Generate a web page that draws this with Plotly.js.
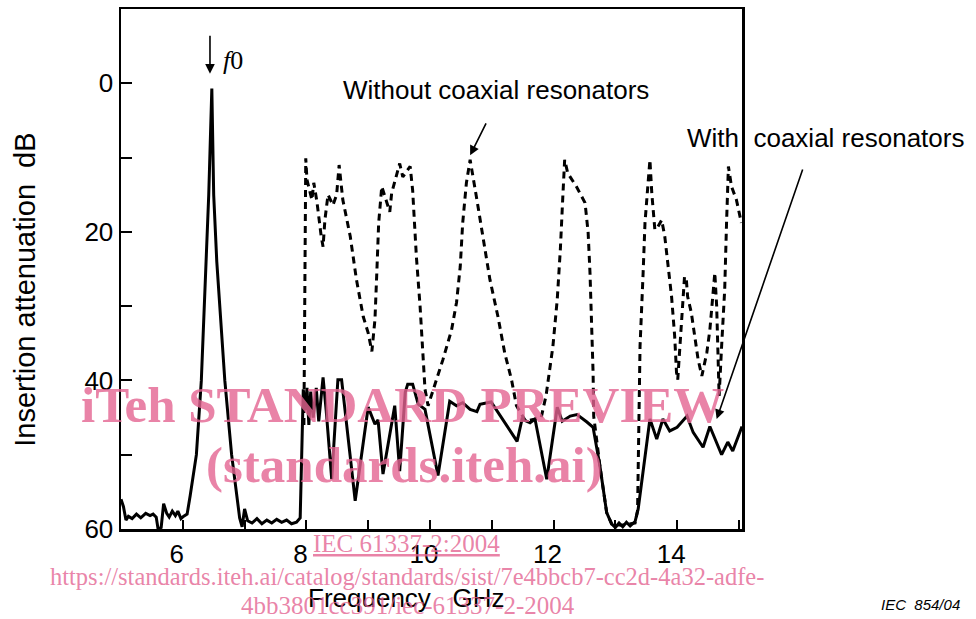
<!DOCTYPE html>
<html>
<head>
<meta charset="utf-8">
<script src="https://cdn.plot.ly/plotly-3.0.1.min.js"></script>
<style>html,body{margin:0;padding:0;background:#fff;}#chart{width:976px;height:619px;}</style>
</head>
<body>
<div id="chart"></div>
<script>
// Frequency (GHz) and insertion attenuation (dB) — with coaxial resonators (solid)
const withFreq = [5.00,5.04,5.08,5.12,5.18,5.25,5.32,5.40,5.47,5.52,5.57,5.60,5.65,5.69,5.74,5.78,5.83,5.88,5.92,5.97,6.01,6.07,6.12,6.22,6.30,6.38,6.42,6.47,6.50,6.55,6.68,6.79,6.92,6.96,7.00,7.05,7.12,7.20,7.28,7.36,7.44,7.52,7.60,7.68,7.76,7.84,7.90,7.95,7.98,8.01,8.04,8.07,8.11,8.16,8.20,8.27,8.32,8.41,8.51,8.57,8.79,9.00,9.11,9.16,9.24,9.43,9.51,9.60,9.64,9.72,9.81,9.92,10.13,10.32,10.43,10.53,10.65,10.76,10.81,10.99,11.25,11.41,11.49,11.62,11.70,11.89,12.06,12.14,12.27,12.38,12.54,12.64,12.75,12.86,12.94,13.00,13.06,13.12,13.18,13.24,13.32,13.37,13.56,13.67,13.77,13.88,14.00,14.16,14.26,14.42,14.53,14.72,14.82,14.90,15.05];
const withAtt = [56.0,57.0,58.8,58.3,58.6,58.0,58.5,57.9,58.2,58.0,58.4,60.0,59.8,56.6,57.9,58.4,57.6,58.2,57.6,58.6,58.3,58.0,55.5,50,40,24,15,0.7,15,24,40,50,58.5,59.7,57.3,58.9,59.2,58.6,59.3,58.8,59.2,58.7,59.1,58.8,59.3,59.1,58.5,41.2,44,41,46,41.5,45,41,45.5,39.6,44,53.3,39.9,39.9,56.2,43.6,45.9,45.3,52.6,43.4,52.2,41.6,40.5,40.5,43.2,43.9,52.8,42.8,43.4,43.0,43.9,44.2,43.2,42.9,46.2,48.2,45.2,45.7,45.2,53.3,43.6,45.5,44.8,44.6,45.6,46.3,51.5,57.8,59.3,59.8,59.2,59.7,59.1,59.6,59.0,57.3,45.2,47.9,45.2,46.8,46.3,44.8,47.0,49.0,46.2,50.0,48.3,49.5,46.2];

// Without coaxial resonators (dashed)
const withoutFreq = [7.96,7.97,7.99,8.01,8.09,8.12,8.17,8.24,8.27,8.30,8.35,8.43,8.49,8.53,8.59,8.71,8.81,8.92,9.00,9.06,9.11,9.14,9.17,9.22,9.30,9.35,9.38,9.46,9.51,9.56,9.68,9.72,9.78,9.84,9.89,9.92,9.97,10.11,10.21,10.35,10.43,10.49,10.53,10.59,10.65,10.76,10.86,10.97,11.10,11.21,11.32,11.40,11.55,11.80,11.88,11.99,12.06,12.11,12.15,12.18,12.23,12.37,12.51,12.56,12.59,12.62,12.64,12.65,12.75,12.86,12.94,13.10,13.32,13.36,13.38,13.40,13.45,13.48,13.53,13.56,13.59,13.64,13.69,13.75,13.80,13.85,13.91,13.96,13.99,14.01,14.07,14.12,14.15,14.17,14.23,14.29,14.34,14.40,14.48,14.53,14.58,14.61,14.64,14.66,14.68,14.72,14.77,14.80,14.83,14.88,14.96,15.04];
const withoutAtt = [46,30,10.1,13.0,15.7,13.4,15.9,20.6,22.0,18.4,15.0,16.4,15.0,11.0,15.7,20.6,26.4,31.4,33.6,36.1,31.8,25.5,18.8,13.9,16.1,17.3,14.8,12.1,10.8,12.6,11.2,14.4,23.3,30.0,36.7,41.2,43.4,39.9,37.2,33.2,29.5,24.7,18.8,13.4,10.3,15.7,20.6,26.4,31.4,36.3,39.9,43.4,45.5,45.0,42.0,35.4,29.1,22.4,15.3,10.3,12.1,13.9,16.1,20.1,25.5,32.2,38.9,44.8,51.5,57.8,59.3,59.5,59.2,57.5,46.6,35.4,25.5,18.8,13.4,10.3,14.8,19.7,19.3,18.4,20.6,24.7,28.7,34.0,38.9,39.9,32.2,26.0,26.5,28.7,30.9,34.5,37.2,39.4,36.3,33.2,28.2,25.5,30.0,35.4,42.1,35.4,27.8,18.8,11.2,13.9,15.7,18.8];

const xTickVals = [6, 8, 10, 12, 14];
const xTickText = ['6', '8', '10', '12', '14'];
const yTickVals = [0, 20, 40, 60];
const yTickText = ['0', '20', '40', '60'];

const pink = 'rgba(228,100,145,0.8)';
const sans = 'Liberation Sans, Arial, sans-serif';
const serif = 'Liberation Serif, Times New Roman, serif';

const traces = [
  {x: withoutFreq, y: withoutAtt, mode: 'lines', line: {color: '#000', width: 3, dash: '7px,5px'}, hoverinfo: 'skip'},
  {x: withFreq, y: withAtt, mode: 'lines', line: {color: '#000', width: 3}, hoverinfo: 'skip'}
];

const layout = {
  width: 976, height: 619,
  margin: {l: 121, r: 234, t: 9, b: 90},
  paper_bgcolor: '#fff', plot_bgcolor: '#fff',
  showlegend: false,
  font: {family: sans, size: 26, color: '#000'},
  xaxis: {
    range: [5, 15.05], showgrid: false, zeroline: false,
    showline: true, linecolor: '#000', linewidth: 2.5, mirror: true,
    tickvals: xTickVals, ticktext: xTickText,
    ticks: 'inside', ticklen: 9, tickwidth: 2, tickcolor: '#000',
    minor: {dtick: 1, tick0: 5, ticks: 'inside', ticklen: 9, tickwidth: 2, tickcolor: '#000'},
    tickfont: {family: sans, size: 26, color: '#000'},
    ticklabelshift: -6
  },
  yaxis: {
    range: [60, -10], showgrid: false, zeroline: false,
    showline: true, linecolor: '#000', linewidth: 2.5, mirror: true,
    tickvals: yTickVals, ticktext: yTickText,
    ticks: 'inside', ticklen: 11, tickwidth: 2, tickcolor: '#000',
    minor: {dtick: 10, tick0: 0, ticks: 'inside', ticklen: 11, tickwidth: 2, tickcolor: '#000'},
    tickfont: {family: sans, size: 26, color: '#000'}
  },
  annotations: [
    {xref: 'paper', yref: 'paper', x: -0.1546, y: 0.46, text: 'Insertion attenuation\u00a0\u00a0dB', textangle: -90, showarrow: false, xanchor: 'center', yanchor: 'middle', font: {family: sans, size: 29, color: '#000'}},
    {xref: 'paper', yref: 'paper', x: 0.4605, y: -0.1327, text: 'Frequency\u00a0\u00a0\u00a0GHz', showarrow: false, xanchor: 'center', yanchor: 'middle', font: {family: sans, size: 26, color: '#000'}},
    {xref: 'paper', yref: 'paper', x: 0.604, y: 0.844, text: 'Without coaxial resonators', showarrow: false, xanchor: 'center', yanchor: 'middle', font: {family: sans, size: 26, color: '#000'}},
    {xref: 'x', yref: 'y', x: 10.65, y: 9.7, axref: 'x', ayref: 'y', ax: 10.92, ay: 5.2, text: '', showarrow: true, arrowhead: 2, arrowsize: 1.2, arrowwidth: 1.6, arrowcolor: '#000'},
    {xref: 'paper', yref: 'paper', x: 0.908, y: 0.752, text: 'With\u00a0\u00a0coaxial resonators', showarrow: false, xanchor: 'left', yanchor: 'middle', font: {family: sans, size: 26, color: '#000'}},
    {xref: 'x', yref: 'y', x: 14.64, y: 45.2, axref: 'x', ayref: 'y', ax: 16.04, ay: 11.4, text: '', showarrow: true, arrowhead: 2, arrowsize: 1.2, arrowwidth: 1.6, arrowcolor: '#000'},
    {xref: 'x', yref: 'y', x: 6.44, y: -1.3, axref: 'x', ayref: 'y', ax: 6.44, ay: -6.6, text: '', showarrow: true, arrowhead: 2, arrowsize: 1.2, arrowwidth: 1.6, arrowcolor: '#000'},
    {xref: 'x', yref: 'y', x: 6.62, y: -3.1, text: '<i>f</i>0', showarrow: false, xanchor: 'left', yanchor: 'middle', font: {family: serif, size: 26, color: '#000'}},
    {xref: 'paper', yref: 'paper', x: 1.287, y: -0.146, text: '<i>IEC\u00a0\u00a0854/04</i>', showarrow: false, xanchor: 'center', yanchor: 'middle', font: {family: sans, size: 15, color: '#000'}},
    {xref: 'paper', yref: 'paper', x: 0.454, y: 0.2385, text: '<b>iTeh STANDARD PREVIEW</b>', showarrow: false, xanchor: 'center', yanchor: 'middle', font: {family: serif, size: 51, color: pink}},
    {xref: 'paper', yref: 'paper', x: 0.457, y: 0.123, text: '<b>(standards.iteh.ai)</b>', showarrow: false, xanchor: 'center', yanchor: 'middle', font: {family: serif, size: 51, color: pink}},
    {xref: 'paper', yref: 'paper', x: 0.459, y: -0.027, text: '<u>IEC 61337-2:2004</u>', showarrow: false, xanchor: 'center', yanchor: 'middle', font: {family: serif, size: 25, color: pink}},
    {xref: 'paper', yref: 'paper', x: 0.461, y: -0.092, text: 'https://standards.iteh.ai/catalog/standards/sist/7e4bbcb7-cc2d-4a32-adfe-', showarrow: false, xanchor: 'center', yanchor: 'middle', font: {family: serif, size: 24.5, color: pink}},
    {xref: 'paper', yref: 'paper', x: 0.462, y: -0.148, text: '4bb3801cc391/iec-61337-2-2004', showarrow: false, xanchor: 'center', yanchor: 'middle', font: {family: serif, size: 25, color: pink}}
  ]
};

Plotly.newPlot('chart', traces, layout, {displayModeBar: false, staticPlot: true});
</script>
</body>
</html>
